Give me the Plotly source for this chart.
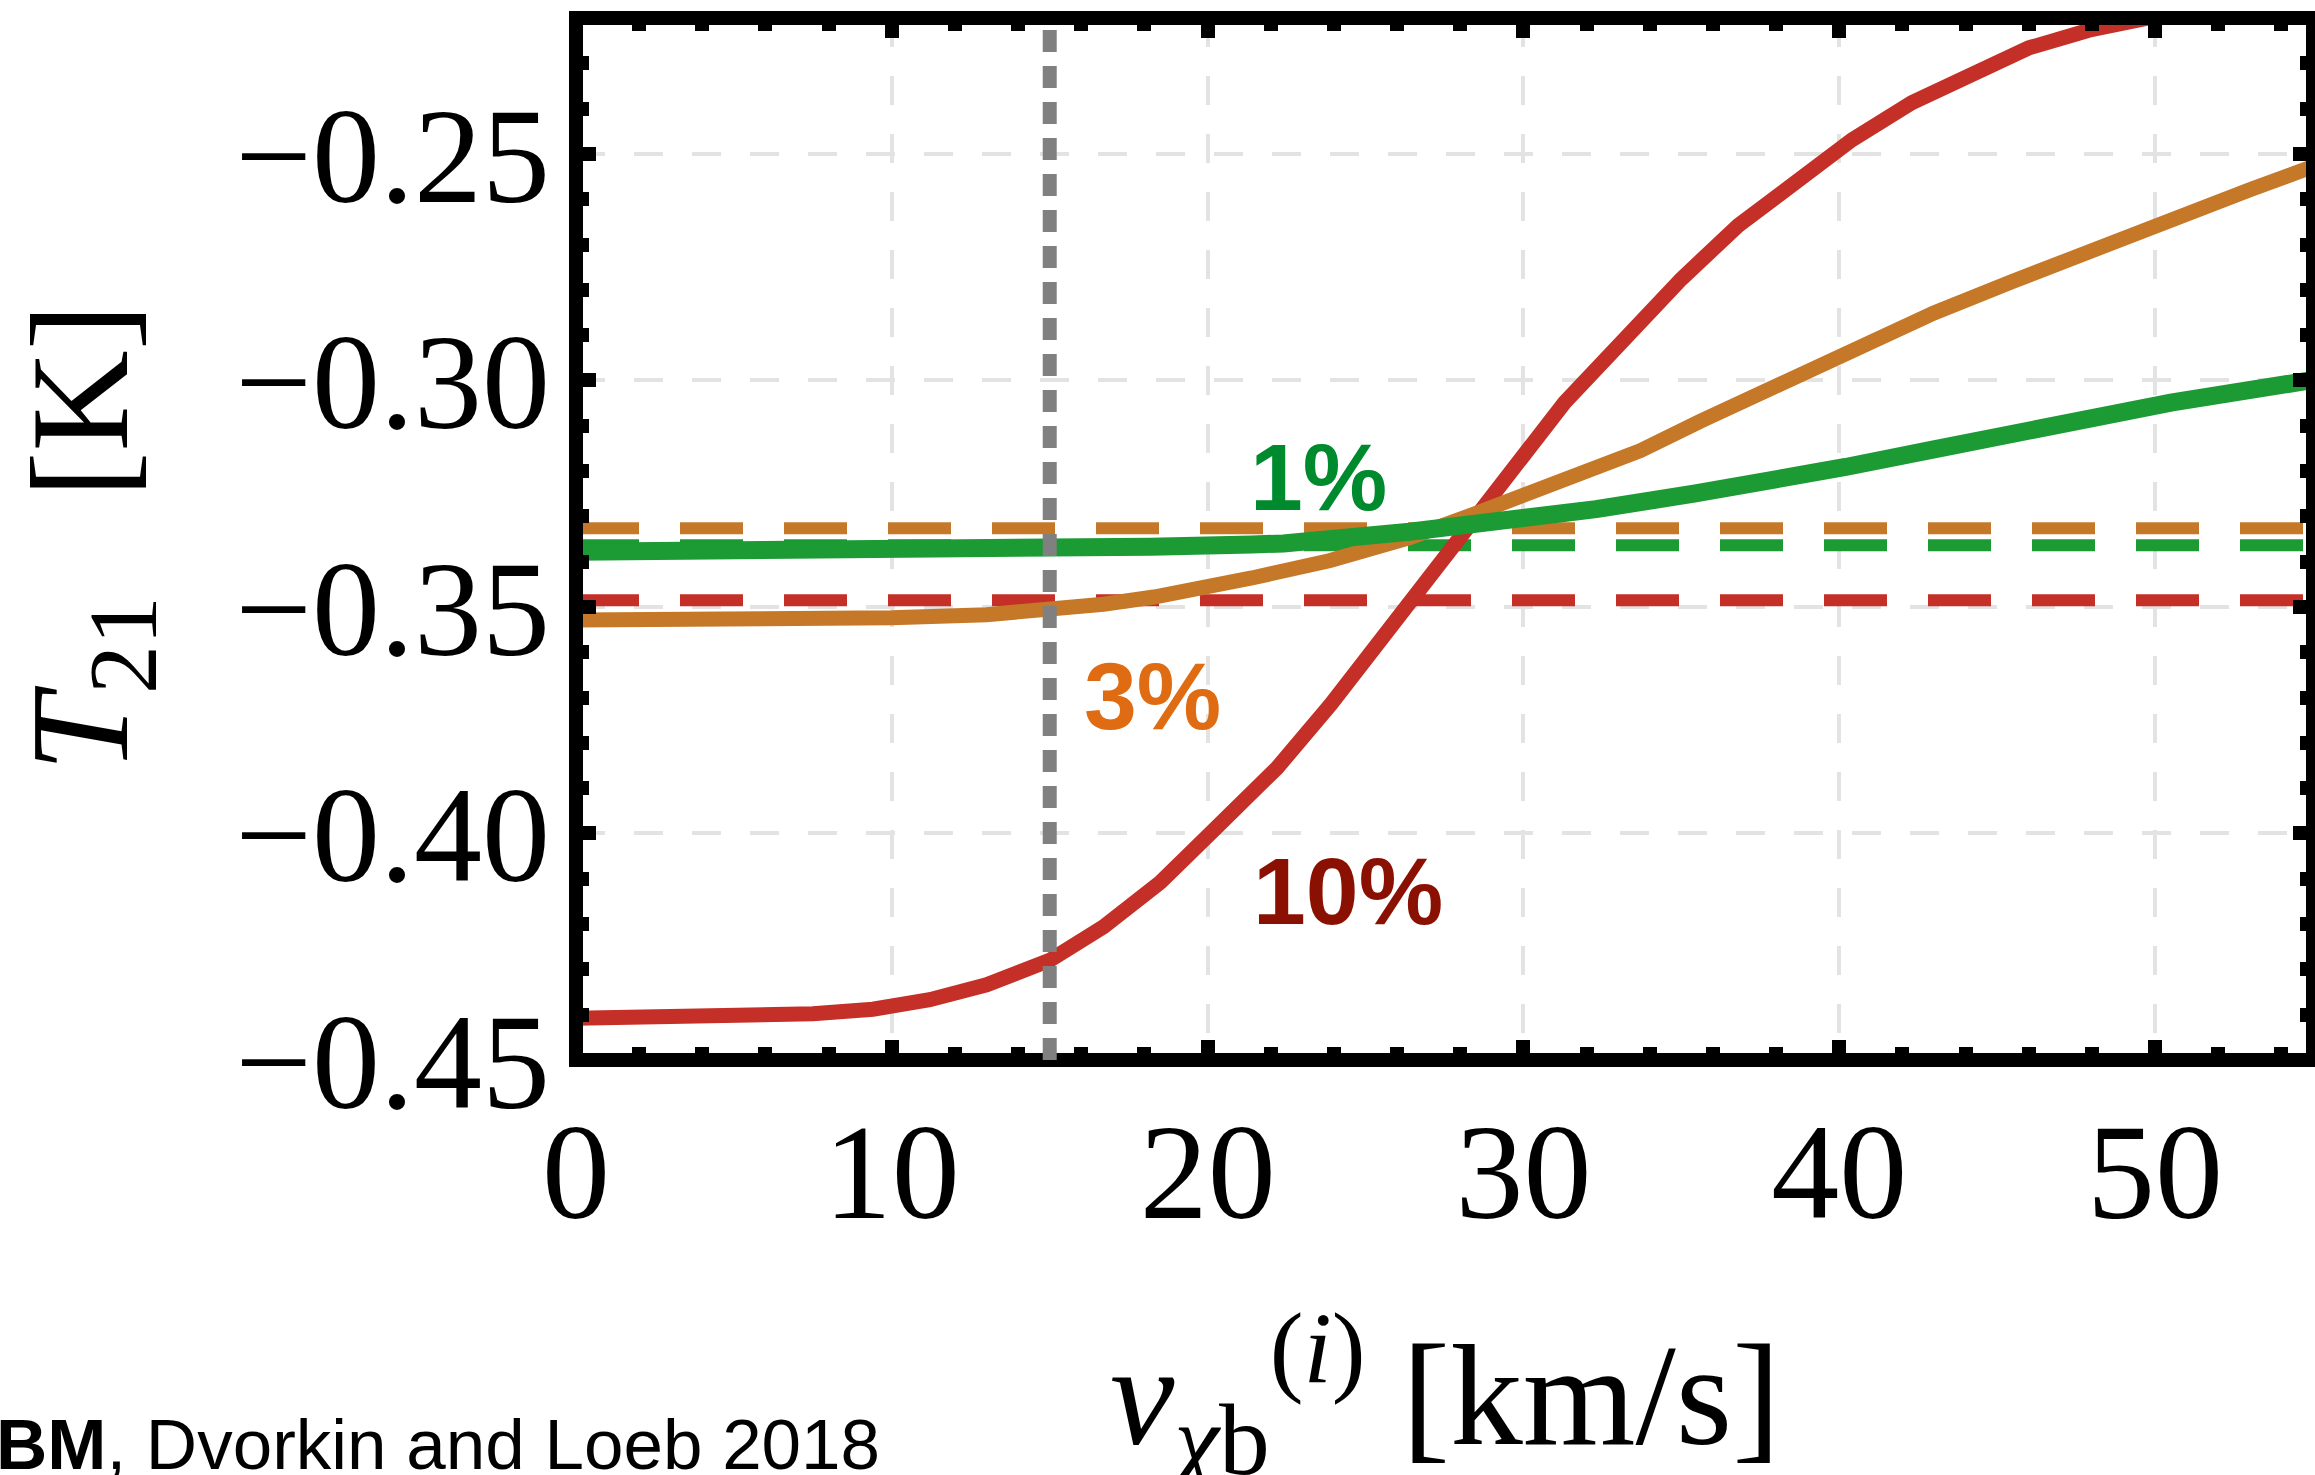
import plotly.graph_objects as go

# 21-cm brightness temperature vs. initial DM-baryon relative velocity
red_x = [0, 3, 5.6, 7.5, 9.4, 11.2, 13, 15, 16.7, 18.5, 20.2, 22.2, 23.9, 26.4, 28.1,
         29.5, 31.3, 33.2, 35, 36.8, 38.6, 40.4, 42.3, 44.2, 46, 47.9, 49, 50.5, 52, 55]
red_y = [-0.4408, -0.4407, -0.4403, -0.4398, -0.4388, -0.4367, -0.4334, -0.4280, -0.4206,
         -0.4108, -0.3992, -0.3855, -0.3715, -0.3487, -0.3341, -0.3201, -0.3049, -0.2909,
         -0.2776, -0.2658, -0.2561, -0.2469, -0.2387, -0.2321, -0.2266, -0.2227, -0.2209,
         -0.2190, -0.2175, -0.2150]

orange_x = [0, 5, 10, 13, 15, 16.7, 18.3, 20, 21.4, 23.85, 26.4, 28.4, 30.9, 33.7, 35.6,
            38.1, 40.4, 43, 45.5, 48, 50.5, 53, 55]
orange_y = [-0.3529, -0.3528, -0.3524, -0.3517, -0.3508, -0.3494, -0.3478, -0.3458, -0.3436,
            -0.3398, -0.3347, -0.3296, -0.3233, -0.3155, -0.3090, -0.3010, -0.2928, -0.2851,
            -0.2781, -0.2711, -0.2645, -0.2579, -0.2528]

green_x = [0, 5, 10, 15, 18.2, 21.4, 22.4, 26.4, 29.5, 32.3, 35.4, 38, 40.2, 43, 46.8, 50.5, 55]
green_y = [-0.3378, -0.3377, -0.3375, -0.3369, -0.3367, -0.3362, -0.3360, -0.3334, -0.3309,
           -0.3284, -0.3250, -0.3220, -0.3191, -0.3152, -0.3101, -0.3049, -0.2999]

# constant reference levels for each fraction
ref_levels = {"10%": -0.3485, "3%": -0.3326, "1%": -0.3364}

v_marker = 15  # km/s
x_range = [0, 55]
y_range = [-0.45, -0.22]
x_ticks = [0, 10, 20, 30, 40, 50]
y_ticks = [-0.45, -0.40, -0.35, -0.30, -0.25]

RED, ORANGE, GREEN = "#c42f27", "#c57828", "#1c9a34"
LBL_RED, LBL_ORANGE, LBL_GREEN = "#8a1102", "#df6c12", "#008a2e"

fig = go.Figure()

dash_style = "63px,41px"
for name, col in [("10%", RED), ("3%", ORANGE), ("1%", GREEN)]:
    lvl = ref_levels[name]
    fig.add_trace(go.Scatter(x=x_range, y=[lvl, lvl], mode="lines",
                             line=dict(color=col, width=12, dash=dash_style),
                             showlegend=False, hoverinfo="skip"))

fig.add_trace(go.Scatter(x=red_x, y=red_y, mode="lines",
                         line=dict(color=RED, width=15), showlegend=False))
fig.add_trace(go.Scatter(x=orange_x, y=orange_y, mode="lines",
                         line=dict(color=ORANGE, width=15), showlegend=False))
fig.add_trace(go.Scatter(x=green_x, y=green_y, mode="lines",
                         line=dict(color=GREEN, width=18), showlegend=False))

serif = "Liberation Serif"
tick_font = dict(family=serif, size=136, color="black")
grid_common = dict(showgrid=True, gridcolor="#e3e3e3", gridwidth=3.5, griddash="29px,29px",
                   zeroline=False, showline=False, mirror="ticks",
                   ticks="inside", ticklen=20, tickwidth=14, tickcolor="black",
                   tickfont=tick_font)

fig.update_xaxes(range=x_range, tickvals=x_ticks, ticklabelstandoff=21, **grid_common,
                 minor=dict(dtick=2, tick0=0, ticks="inside", ticklen=13, tickwidth=14,
                            tickcolor="black", showgrid=False))
fig.update_yaxes(range=y_range, tickvals=y_ticks, tickformat=".2f", ticklabelstandoff=25,
                 **grid_common,
                 minor=dict(dtick=0.01, tick0=-0.45, ticks="inside", ticklen=13, tickwidth=14,
                            tickcolor="black", showgrid=False))

# heavy frame around the plotting area
fig.add_shape(type="rect", xref="paper", yref="paper", x0=0, x1=1, y0=0, y1=1,
              line=dict(color="black", width=14), fillcolor="rgba(0,0,0,0)", layer="above")
# dotted marker at the chosen velocity
fig.add_shape(type="line", xref="x", yref="y", x0=v_marker, x1=v_marker,
              y0=y_range[0], y1=y_range[1],
              line=dict(color="#808080", width=14, dash="22px,14px"), layer="above")

label_font = "Liberation Sans"
fig.add_annotation(x=23.5, y=-0.3214, text="<b>1%</b>", showarrow=False,
                   font=dict(family=label_font, size=95, color=LBL_GREEN))
fig.add_annotation(x=18.26, y=-0.3696, text="<b>3%</b>", showarrow=False,
                   font=dict(family=label_font, size=95, color=LBL_ORANGE))
fig.add_annotation(x=24.43, y=-0.4126, text="<b>10%</b>", showarrow=False,
                   font=dict(family=label_font, size=95, color=LBL_RED))

# axis titles
fig.add_annotation(xref="paper", yref="paper", x=0.5, y=-0.42,
                   xanchor="center", yanchor="bottom",
                   text="<i>v</i><sub><i>χ</i>b</sub><sup>(<i>i</i>)</sup> [km/s]",
                   showarrow=False, font=dict(family=serif, size=145, color="black"))
fig.add_annotation(xref="paper", yref="paper", x=-0.2798, y=0.501, textangle=-90,
                   xanchor="center", yanchor="middle",
                   text="<i>T</i><sub>21</sub>\u2002\u2009[K]",
                   showarrow=False, font=dict(family=serif, size=140, color="black"))

fig.add_annotation(xref="paper", yref="paper", x=-0.335, y=-0.409,
                   xanchor="left", yanchor="bottom",
                   text="<b>BM</b>, Dvorkin and Loeb 2018", showarrow=False,
                   font=dict(family=label_font, size=71, color="black"))

fig.update_layout(width=2315, height=1475, margin=dict(l=576, r=2, t=18, b=415),
                  plot_bgcolor="white", paper_bgcolor="white")

fig.write_html("out.html")
